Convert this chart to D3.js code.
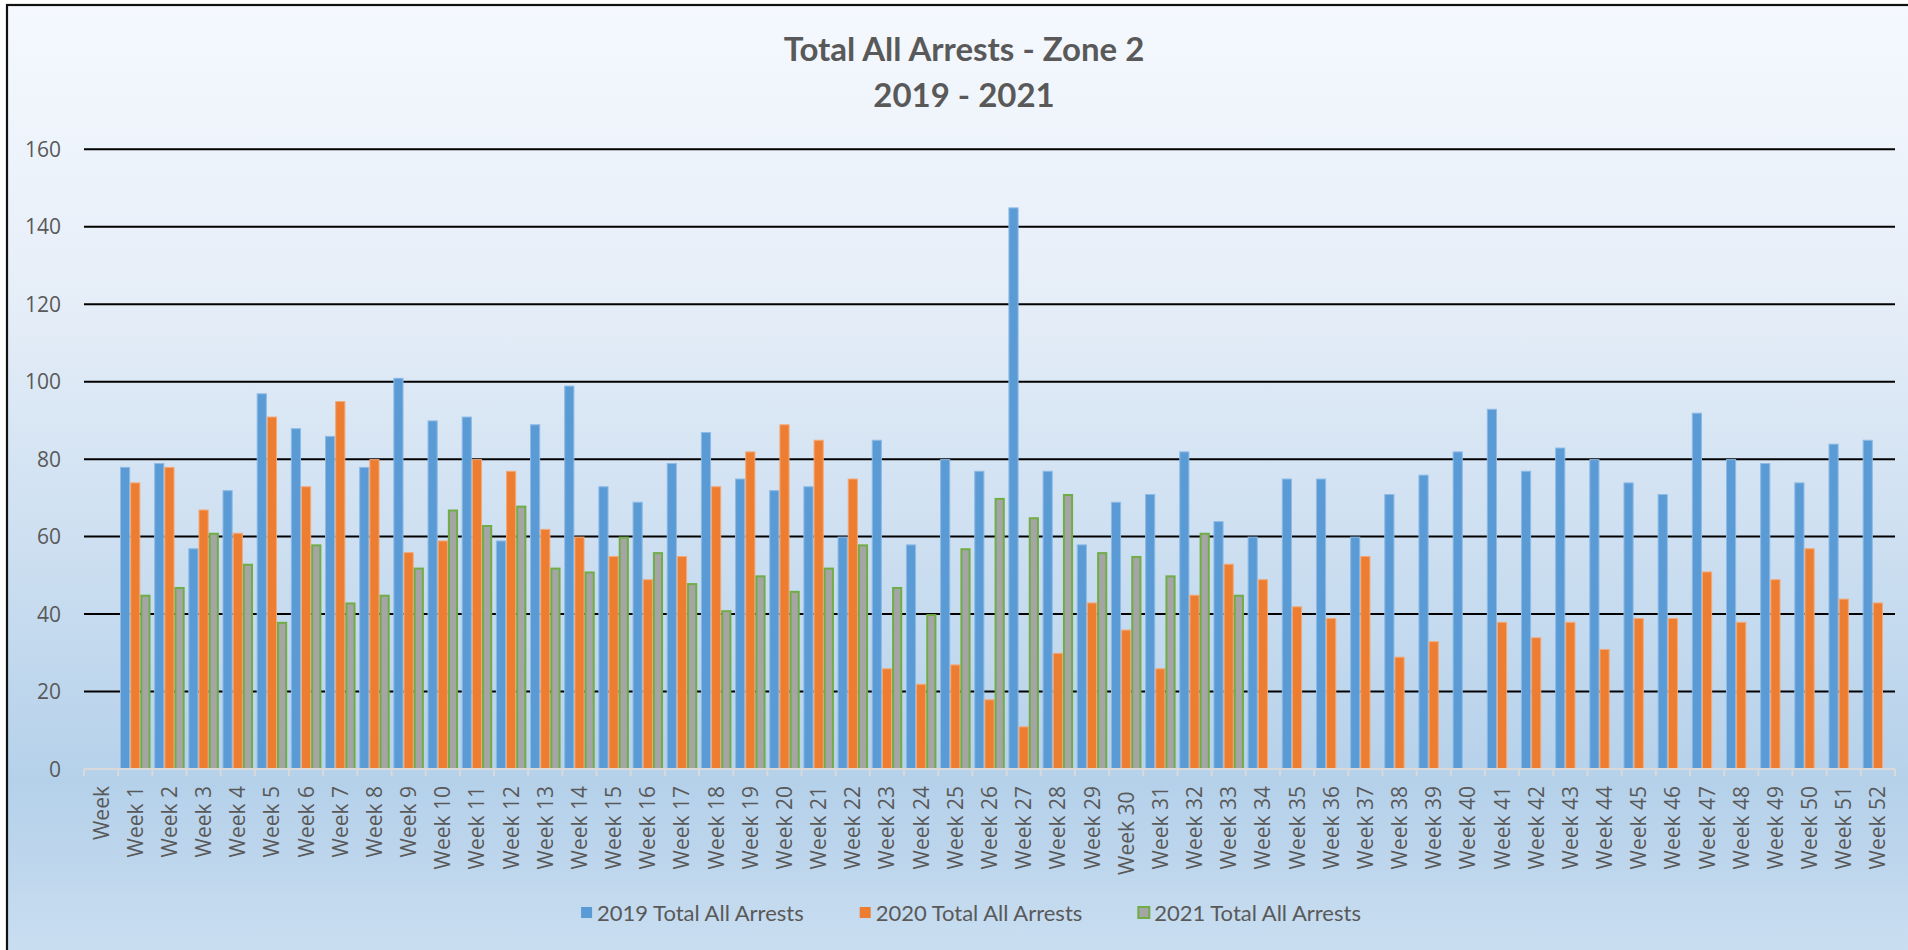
<!DOCTYPE html>
<html>
<head>
<meta charset="utf-8">
<script src="https://cdn.jsdelivr.net/npm/d3@7/dist/d3.min.js"></script>
<style>
  body { margin: 0; background: #fff; }
  text { fill: #595959; }
</style>
</head>
<body>
<svg id="chart" width="1908" height="950"></svg>
<script>
const weeks = ["Week", "Week 1", "Week 2", "Week 3", "Week 4", "Week 5", "Week 6", "Week 7", "Week 8", "Week 9", "Week 10",
  "Week 11", "Week 12", "Week 13", "Week 14", "Week 15", "Week 16", "Week 17", "Week 18", "Week 19", "Week 20",
  "Week 21", "Week 22", "Week 23", "Week 24", "Week 25", "Week 26", "Week 27", "Week 28", "Week 29", "Week 30 ",
  "Week 31", "Week 32", "Week 33", "Week 34", "Week 35", "Week 36", "Week 37", "Week 38", "Week 39", "Week 40",
  "Week 41", "Week 42", "Week 43", "Week 44", "Week 45", "Week 46", "Week 47", "Week 48", "Week 49", "Week 50",
  "Week 51", "Week 52"];

const arrests2019 = [null, 78, 79, 57, 72, 97, 88, 86, 78, 101, 90,
  91, 59, 89, 99, 73, 69, 79, 87, 75, 72,
  73, 60, 85, 58, 80, 77, 145, 77, 58, 69,
  71, 82, 64, 60, 75, 75, 60, 71, 76, 82,
  93, 77, 83, 80, 74, 71, 92, 80, 79, 74,
  84, 85];

const arrests2020 = [null, 74, 78, 67, 61, 91, 73, 95, 80, 56, 59,
  80, 77, 62, 60, 55, 49, 55, 73, 82, 89,
  85, 75, 26, 22, 27, 18, 11, 30, 43, 36,
  26, 45, 53, 49, 42, 39, 55, 29, 33, null,
  38, 34, 38, 31, 39, 39, 51, 38, 49, 57,
  44, 43];

const arrests2021 = [null, 45, 47, 61, 53, 38, 58, 43, 45, 52, 67,
  63, 68, 52, 51, 60, 56, 48, 41, 50, 46,
  52, 58, 47, 40, 57, 70, 65, 71, 56, 55,
  50, 61, 45, null, null, null, null, null, null, null,
  null, null, null, null, null, null, null, null, null, null,
  null, null];

const seriesNames = ["2019 Total All Arrests", "2020 Total All Arrests", "2021 Total All Arrests"];
const seriesValues = [arrests2019, arrests2020, arrests2021];
const yTicks = [0, 20, 40, 60, 80, 100, 120, 140, 160];
const titleLines = ["Total All Arrests - Zone 2", "2019 - 2021"];

const fills = ["#5b9bd5", "#ed7d31", "#a5a5a5"];
const strokes = ["#8dbbe6", "#f3a979", "#70ad47"];

const svg = d3.select("#chart");
const plot = {left: 84, right: 1895, top: 149.3, bottom: 769};

// background gradient + border
const defs = svg.append("defs");
const grad = defs.append("linearGradient").attr("id", "bg")
  .attr("x1", 0).attr("y1", 0).attr("x2", 0).attr("y2", 1);
grad.append("stop").attr("offset", "0").attr("stop-color", "#f5f9fe");
grad.append("stop").attr("offset", "0.3").attr("stop-color", "#e6eef8");
grad.append("stop").attr("offset", "0.81").attr("stop-color", "#b5d1ea");
grad.append("stop").attr("offset", "0.88").attr("stop-color", "#bcd5ec");
grad.append("stop").attr("offset", "1").attr("stop-color", "#cbdff1");

const blur = defs.append("filter").attr("id", "shadow")
  .attr("x", "-5%").attr("y", "-200%").attr("width", "110%").attr("height", "500%");
blur.append("feGaussianBlur").attr("stdDeviation", 2.5);

svg.append("rect")
  .attr("x", 7).attr("y", 5).attr("width", 1910).attr("height", 960)
  .attr("fill", "url(#bg)")
  .attr("stroke", "#111").attr("stroke-width", 2.2);

// scales
const x0 = d3.scaleBand().domain(weeks).range([plot.left, plot.right]).padding(0);
const groupPad = x0.bandwidth() * 0.107;
const x1 = d3.scaleBand().domain(seriesNames)
  .range([groupPad / 2, x0.bandwidth() - groupPad / 2]);
const y = d3.scaleLinear().domain([0, 160]).range([plot.bottom, plot.top]);

// gridlines with soft shadow
const grid = svg.append("g");
const gridTicks = yTicks.filter(d => d > 0);
grid.selectAll("line.shadow").data(gridTicks).join("line")
  .attr("class", "shadow")
  .attr("x1", plot.left).attr("x2", plot.right)
  .attr("y1", d => y(d) + 7).attr("y2", d => y(d) + 7)
  .attr("stroke", "#7f90a8").attr("stroke-opacity", 0.45)
  .attr("stroke-width", 7)
  .attr("filter", "url(#shadow)");
grid.selectAll("line.major").data(gridTicks).join("line")
  .attr("class", "major")
  .attr("x1", plot.left).attr("x2", plot.right)
  .attr("y1", d => y(d)).attr("y2", d => y(d))
  .attr("stroke", "#000").attr("stroke-width", 2);

// y labels
svg.append("g").selectAll("text").data(yTicks).join("text")
  .attr("x", 61).attr("y", d => y(d))
  .attr("dy", "0.36em")
  .attr("text-anchor", "end")
  .style("font-family", "'Open Sans', sans-serif")
  .style("font-size", "21px")
  .text(d => d);

// bars
const groups = svg.append("g").selectAll("g").data(weeks).join("g")
  .attr("transform", d => `translate(${x0(d)},0)`);

groups.selectAll("rect")
  .data((w, i) => seriesNames.map((s, k) => ({s: s, k: k, v: seriesValues[k][i]})).filter(d => d.v != null))
  .join("rect")
  .attr("x", d => x1(d.s) + (d.k == 2 ? 1 : 0.5))
  .attr("width", d => x1.bandwidth() - (d.k == 2 ? 2 : 1))
  .attr("y", d => y(d.v) + (d.k == 2 ? 1 : 0.5))
  .attr("height", d => y(0) - y(d.v) - (d.k == 2 ? 1 : 0.5))
  .attr("fill", d => fills[d.k])
  .attr("stroke", d => strokes[d.k])
  .attr("stroke-width", d => d.k == 2 ? 2 : 1);

// x axis
const axis = svg.append("g");
axis.append("line")
  .attr("x1", plot.left).attr("x2", plot.right)
  .attr("y1", plot.bottom).attr("y2", plot.bottom)
  .attr("stroke", "#d9d9d9").attr("stroke-width", 2);
axis.selectAll("line.tick").data(weeks.concat(["end"])).join("line")
  .attr("class", "tick")
  .attr("x1", (d, i) => plot.left + i * x0.step())
  .attr("x2", (d, i) => plot.left + i * x0.step())
  .attr("y1", plot.bottom).attr("y2", plot.bottom + 7)
  .attr("stroke", "#d9d9d9").attr("stroke-width", 2);

axis.selectAll("text").data(weeks).join("text")
  .attr("transform", d => `translate(${x0(d) + x0.bandwidth() / 2 + 7.5},786) rotate(-90)`)
  .attr("text-anchor", "end")
  .style("white-space", "pre")
  .style("font-family", "'Open Sans', sans-serif")
  .style("font-size", "21px")
  .text(d => d);

// title
svg.append("g").selectAll("text").data(titleLines).join("text")
  .attr("x", 964).attr("y", (d, i) => 61 + i * 46)
  .attr("text-anchor", "middle")
  .style("font-family", "Lato, sans-serif")
  .style("font-weight", "bold")
  .style("font-size", "33px")
  .text(d => d);

// legend
const legend = svg.append("g");
const items = legend.selectAll("g").data(seriesNames).join("g");
items.append("rect")
  .attr("width", 11).attr("height", 11).attr("y", -6)
  .attr("fill", (d, i) => fills[i])
  .attr("stroke", (d, i) => i == 2 ? strokes[i] : "none")
  .attr("stroke-width", 2);
items.append("text")
  .attr("x", 16).attr("dy", "0.35em")
  .style("font-family", "Lato, sans-serif")
  .style("font-size", "22px")
  .text(d => d);

let widths = [];
items.each(function() { widths.push(this.getBBox().width); });
const spacing = 56;
const total = d3.sum(widths) + spacing * (widths.length - 1);
let pos = 971 - total / 2;
items.attr("transform", (d, i) => {
  const t = `translate(${pos},913)`;
  pos += widths[i] + spacing;
  return t;
});
</script>
</body>
</html>
